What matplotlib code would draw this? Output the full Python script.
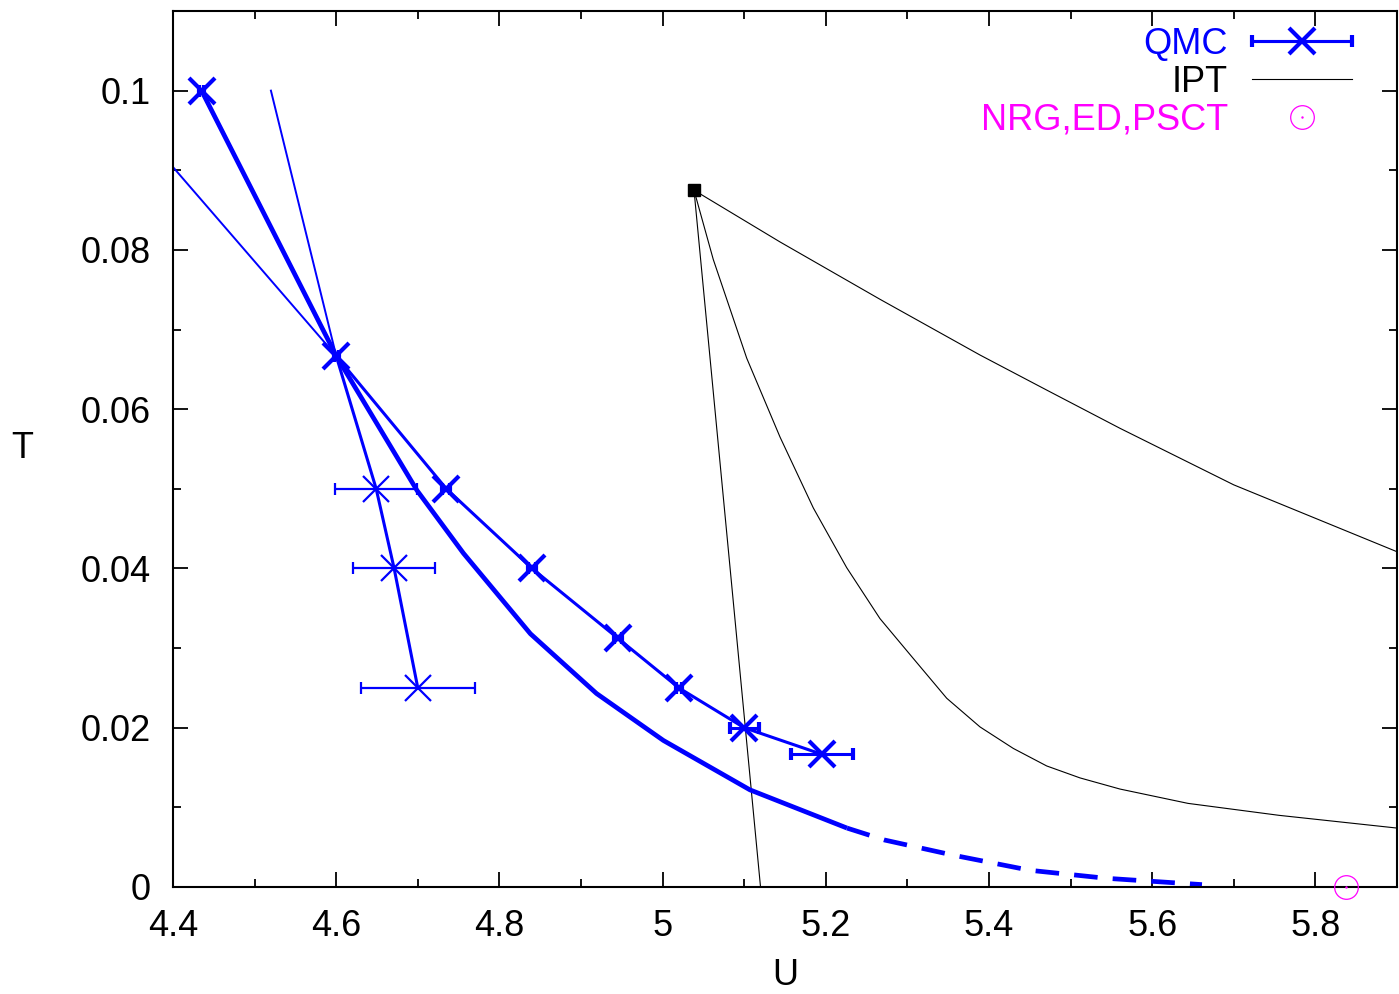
import matplotlib.pyplot as plt
from matplotlib.ticker import MultipleLocator
from matplotlib.legend_handler import HandlerTuple, HandlerErrorbar

plt.rcParams['font.family'] = ['Liberation Sans', 'DejaVu Sans']

# QMC - upper branch (small error bars)
u_qmc_hi = [4.435, 4.6, 4.735, 4.84, 4.945, 5.02, 5.1, 5.195]
t_qmc_hi = [0.1, 0.0667, 0.05, 0.04, 0.03125, 0.025, 0.02, 0.01667]
du_qmc_hi = [0.003, 0.003, 0.005, 0.005, 0.005, 0.004, 0.018, 0.038]

# QMC - lower branch (starts at the critical point)
u_qmc_lo = [4.6, 4.649, 4.671, 4.70]
t_qmc_lo = [0.0667, 0.05, 0.04, 0.025]
du_qmc_lo = [0.0, 0.05, 0.05, 0.07]

# thin extrapolated lines above the critical point
u_ext1 = [4.40, 4.6]
t_ext1 = [0.0904, 0.0667]
u_ext2 = [4.52, 4.6]
t_ext2 = [0.1, 0.0667]

# thick curve (solid part, then dashed)
u_thick = [4.435, 4.6, 4.699, 4.756, 4.838, 4.919, 5.001, 5.107, 5.226]
t_thick = [0.1, 0.0667, 0.0498, 0.0419, 0.0318, 0.0243, 0.0184, 0.0122, 0.0074]
u_dash = [5.226, 5.272, 5.356, 5.450, 5.543, 5.661]
t_dash = [0.0074, 0.0059, 0.0040, 0.0021, 0.0011, 0.0003]

# IPT
u_ipt_c, t_ipt_c = 5.0385, 0.0875
u_ipt1 = [5.0385, 5.120]
t_ipt1 = [0.0875, 0.0]
u_ipt2 = [5.0385, 5.0621, 5.1031, 5.1439, 5.1847, 5.2256, 5.2664, 5.3072,
          5.3482, 5.3890, 5.4298, 5.4707, 5.5115, 5.5605, 5.6439, 5.7554,
          5.90]
t_ipt2 = [0.0875, 0.0788, 0.0664, 0.0565, 0.0476, 0.0401, 0.0337, 0.0287,
          0.0237, 0.0201, 0.0174, 0.0152, 0.0137, 0.0123, 0.0105, 0.0090,
          0.0074]
u_ipt3 = [5.0385, 5.1439, 5.2664, 5.3890, 5.4707, 5.5605, 5.6999, 5.90]
t_ipt3 = [0.0875, 0.0810, 0.0738, 0.0668, 0.0624, 0.0576, 0.0505, 0.0421]

# NRG, ED, PSCT
u_nrg = [5.838]
t_nrg = [0.0]

x_ticks = [4.4, 4.6, 4.8, 5.0, 5.2, 5.4, 5.6, 5.8]
x_labels = ['4.4', '4.6', '4.8', '5', '5.2', '5.4', '5.6', '5.8']
y_ticks = [0, 0.02, 0.04, 0.06, 0.08, 0.1]
y_labels = ['0', '0.02', '0.04', '0.06', '0.08', '0.1']

fig = plt.figure(figsize=(13.99, 9.94), dpi=100)
ax = fig.add_axes([173 / 1399, 1 - 887 / 994, 1224 / 1399, 876 / 994])

blue = '#0000ff'

# IPT lines
ax.plot(u_ipt1, t_ipt1, color='black', lw=0.8)
ipt_line, = ax.plot(u_ipt2, t_ipt2, color='black', lw=0.8, label='IPT')
ax.plot(u_ipt3, t_ipt3, color='black', lw=0.8)
ax.plot([u_ipt_c], [t_ipt_c], 's', color='black', ms=8)

# thick blue curve
ax.plot(u_thick, t_thick, color=blue, lw=3.4, solid_capstyle='butt',
        solid_joinstyle='round')
ax.plot(u_dash, t_dash, color=blue, lw=3.4, dashes=(5, 3.2),
        dash_capstyle='butt')

# thin extrapolations
ax.plot(u_ext1, t_ext1, color=blue, lw=1.4)
ax.plot(u_ext2, t_ext2, color=blue, lw=1.4)

# QMC lower branch
ax.plot(u_qmc_lo, t_qmc_lo, color=blue, lw=2.2)
ax.errorbar(u_qmc_lo[1:], t_qmc_lo[1:], xerr=du_qmc_lo[1:], fmt='x',
            color=blue, ms=19, mew=1.6, elinewidth=1.6, capsize=4.5,
            capthick=1.6)

# QMC upper branch
qmc = ax.errorbar(u_qmc_hi, t_qmc_hi, xerr=du_qmc_hi, fmt='-x', color=blue,
                  lw=2.2, ms=19, mew=3.0, elinewidth=2.2, capsize=4.5,
                  capthick=2.2, label='QMC')

# NRG point
circ, = ax.plot(u_nrg, t_nrg, 'o', ms=17, mfc='none', mec='magenta',
                mew=0.9, clip_on=False, zorder=5)
dot, = ax.plot(u_nrg, t_nrg, '.', ms=1.5, color='magenta', clip_on=False,
               zorder=5)

ax.set_xlim(4.4, 5.9)
ax.set_ylim(0, 0.11)
ax.set_xticks(x_ticks)
ax.set_xticklabels(x_labels)
ax.set_yticks(y_ticks)
ax.set_yticklabels(y_labels)
ax.xaxis.set_minor_locator(MultipleLocator(0.1))
ax.yaxis.set_minor_locator(MultipleLocator(0.01))
ax.tick_params(which='both', direction='in', top=True, right=True,
               labelsize=26, width=1.3)
ax.tick_params(which='major', length=11, pad=16)
ax.tick_params(which='minor', length=6)
for s in ax.spines.values():
    s.set_linewidth(1.5)

ax.set_xlabel('U', fontsize=26, labelpad=10)
ax.set_ylabel('T', fontsize=26, rotation=0, labelpad=42, va='center')

leg = ax.legend([qmc, ipt_line, (circ, dot)], ['QMC', 'IPT', 'NRG,ED,PSCT'],
                handler_map={tuple: HandlerTuple(ndivide=1, pad=0),
                             type(qmc): HandlerErrorbar(xerr_size=1.38)},
                loc='upper right', bbox_to_anchor=(0.963, 0.982),
                frameon=False, fontsize=26, markerfirst=False,
                handlelength=2.77, handletextpad=0.66, labelspacing=0.08,
                borderpad=0, borderaxespad=0)
for txt, col in zip(leg.get_texts(), [blue, 'black', 'magenta']):
    txt.set_color(col)

fig.savefig('out.png', dpi=100)
